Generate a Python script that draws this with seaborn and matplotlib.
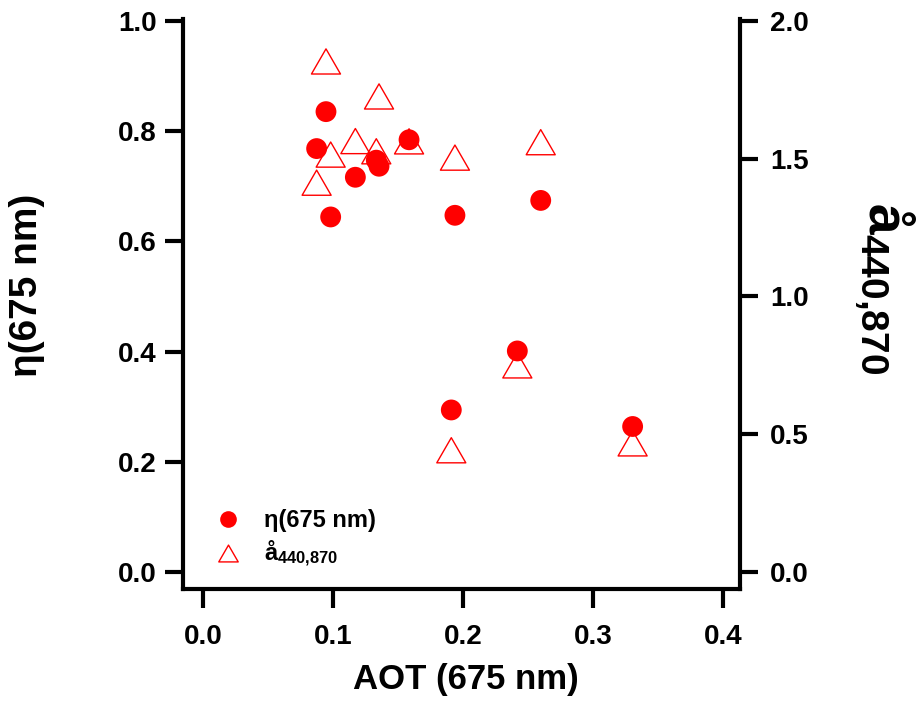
import numpy as np
import pandas as pd
import matplotlib
matplotlib.use("Agg")
import matplotlib.pyplot as plt
from matplotlib.path import Path
from matplotlib.lines import Line2D
import seaborn as sns

# Aerosol optical thickness at 675 nm, shared by both series
aot = [0.0946, 0.0874, 0.0982, 0.1172, 0.1333, 0.1354, 0.1585,
       0.1938, 0.2598, 0.2418, 0.1910, 0.3305]
# eta at 675 nm (left axis)
eta = [0.835, 0.768, 0.644, 0.716, 0.747, 0.736, 0.784,
       0.647, 0.674, 0.401, 0.294, 0.264]
# Angstrom exponent 440-870 nm (right axis)
angstrom = [1.853, 1.413, 1.515, 1.564, 1.527, 1.726, 1.563,
            1.504, 1.560, 0.750, 0.442, 0.467]

x_ticks = [0.0, 0.1, 0.2, 0.3, 0.4]
left_ticks = [0.0, 0.2, 0.4, 0.6, 0.8, 1.0]
right_ticks = [0.0, 0.5, 1.0, 1.5, 2.0]

df = pd.DataFrame({"aot": aot, "eta": eta, "angstrom": angstrom})

sns.set_theme(style="white")
plt.rcParams["font.family"] = ["Liberation Sans", "DejaVu Sans"]
plt.rcParams["font.weight"] = "bold"
plt.rcParams["text.color"] = "black"
plt.rcParams["axes.labelcolor"] = "black"
plt.rcParams["mathtext.fontset"] = "custom"
plt.rcParams["mathtext.rm"] = "Liberation Sans:bold"
plt.rcParams["mathtext.bf"] = "Liberation Sans:bold"
plt.rcParams["mathtext.it"] = "Liberation Sans:bold"

RED = "#ff0000"
# equilateral open triangle
tri = Path([(0, 0.866), (-1, -0.866), (1, -0.866), (0, 0.866)],
           [Path.MOVETO, Path.LINETO, Path.LINETO, Path.CLOSEPOLY])

W, H = 919, 703
fig = plt.figure(figsize=(W / 100, H / 100), dpi=100)
ax = fig.add_axes([183 / W, (H - 589) / H, 557 / W, 570 / H])
ax2 = ax.twinx()

sns.scatterplot(data=df, x="aot", y="angstrom", ax=ax2, marker=tri, s=437,
                color=RED, legend=False)
coll = ax2.collections[-1]
coll.set_facecolor("none")
coll.set_edgecolor(RED)
coll.set_linewidth(1.0)

sns.scatterplot(data=df, x="aot", y="eta", ax=ax, marker="o", s=225,
                color=RED, edgecolor="none", linewidth=0, legend=False)

# circles above triangles
ax.set_zorder(ax2.get_zorder() + 1)
ax.patch.set_visible(False)

ax.set_xlim(-0.0154, 0.4131)
ax.set_ylim(-0.0307, 1.003)
ax2.set_ylim(-0.0615, 2.007)

ax.set_xticks(x_ticks)
ax.set_xticklabels([f"{v:.1f}" for v in x_ticks])
ax.set_yticks(left_ticks)
ax.set_yticklabels([f"{v:.1f}" for v in left_ticks])
ax2.set_yticks(right_ticks)
ax2.set_yticklabels([f"{v:.1f}" for v in right_ticks])

for a in (ax, ax2):
    for s in a.spines.values():
        s.set_linewidth(3)
        s.set_color("black")
        s.set_capstyle("projecting")
    a.spines["top"].set_visible(False)
ax.spines["right"].set_visible(False)
ax2.spines["left"].set_visible(False)
ax2.spines["bottom"].set_visible(False)

ax.tick_params(axis="x", direction="out", length=14, width=3, pad=11,
               labelsize=20, colors="black", bottom=True)
ax.tick_params(axis="y", direction="out", length=13, width=3, pad=6,
               labelsize=20, colors="black", left=True)
ax2.tick_params(axis="y", direction="out", length=13, width=3, pad=8.5,
                labelsize=20, colors="black", right=True)
for lbl in ax.get_xticklabels() + ax.get_yticklabels() + ax2.get_yticklabels():
    lbl.set_fontweight("bold")

ax.set_xlabel("")
ax.set_ylabel("")
ax2.set_ylabel("")

fig.text(466 / W, 1 - 680 / H, "AOT (675 nm)", fontsize=25, fontweight="bold",
         ha="center", va="center", color="black")
fig.text(27 / W, 1 - 285 / H, "η(675 nm)", fontsize=28, fontweight="bold",
         ha="center", va="center", rotation=90, color="black")
fig.text(884 / W, 1 - 288 / H, r"å$_{\mathbf{440{,}870}}$", fontsize=40,
         fontweight="bold", ha="center", va="center", rotation=270,
         color="black")

handles = [
    Line2D([], [], ls="none", marker="o", markersize=12, color=RED,
           markeredgewidth=0),
    Line2D([], [], ls="none", marker=tri, markersize=14, markerfacecolor="none",
           markeredgecolor=RED, markeredgewidth=1.0),
]
labels = ["η(675 nm)", r"å$_{\mathbf{440{,}870}}$"]
leg = ax.legend(handles, labels, loc="upper left",
                bbox_to_anchor=((209 - 183) / 557, (589 - 509) / 570),
                frameon=False, handlelength=1.6, handletextpad=0.75,
                labelspacing=0.3, borderpad=0, borderaxespad=0,
                prop={"weight": "bold", "size": 17})
for t in leg.get_texts():
    t.set_color("black")

fig.savefig("out.png", dpi=100)
